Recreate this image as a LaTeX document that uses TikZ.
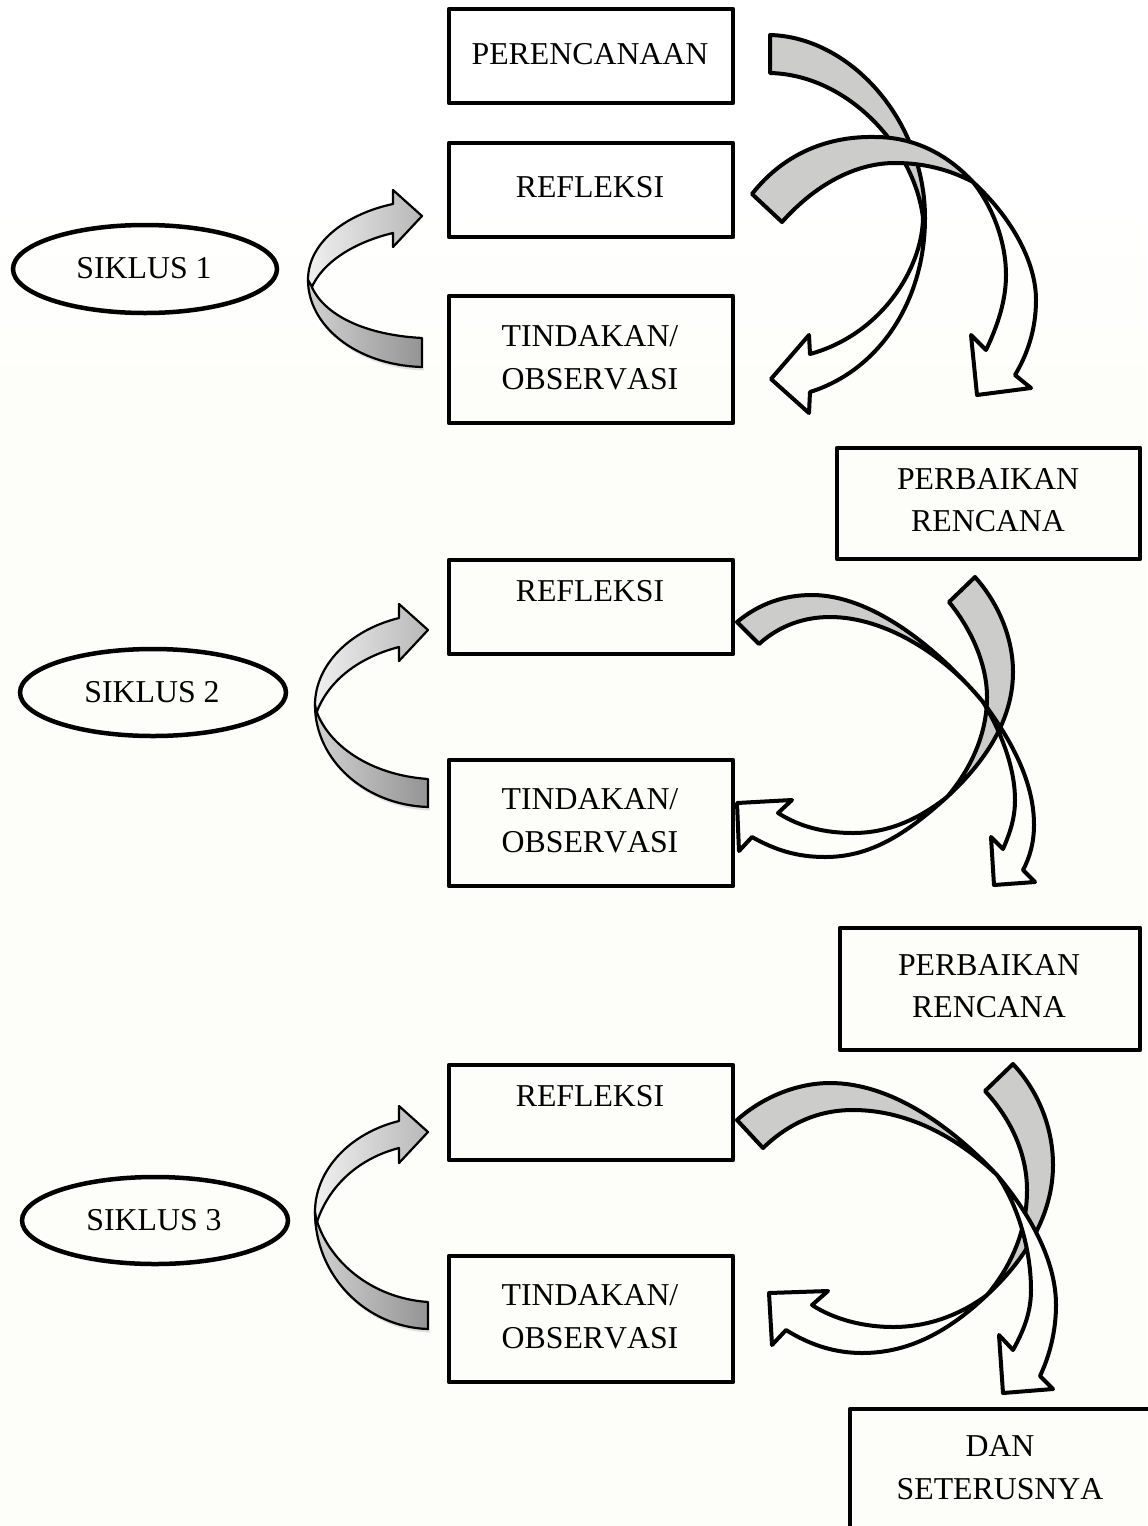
\documentclass[tikz,border=0pt]{standalone}
\usepackage{fontspec}
\setmainfont[Kerning=Off]{Liberation Serif}
\tikzset{
 x=0.5pt,y=-0.5pt,
 boxnode/.style={draw=black,line width=2.25pt,line join=round,rectangle,inner sep=0pt},
 ovalnode/.style={draw=black,line width=2.25pt,ellipse,inner sep=0pt},
 lbl/.style={font=\fontsize{15.9}{21.3}\selectfont,align=center,inner sep=0pt,text=black},
 grayband/.style={draw=black,line width=2pt,line join=round,fill=bandgray},
 whiteband/.style={draw=black,line width=2pt,line join=round,fill=none},
 upband/.style={draw=black,line width=1.1pt,line join=round,left color=black!6,right color=black!28},
 lowband/.style={draw=black,line width=1.1pt,line join=round,left color=black!18,right color=black!42},
 softshadow/.style={draw=black!45,line width=1.5pt,opacity=0.25},
}
\definecolor{bandgray}{HTML}{CCCDCA}
\definecolor{paper}{HTML}{FDFEF9}
\usetikzlibrary{shapes.geometric}
\begin{document}
\begin{tikzpicture}
\useasboundingbox (0,0) rectangle (1147,1526);
\shade[top color=white,bottom color=paper] (0,200) rectangle (1147,420);
\fill[paper] (0,420) rectangle (1147,1526);
% boxes
\node[boxnode,minimum width=142pt,minimum height=47pt] (plan) at (591,56) {};
\node[boxnode,minimum width=142pt,minimum height=47pt] (ref1) at (591,190) {};
\node[boxnode,minimum width=142pt,minimum height=63.5pt] (tin1) at (591,359.5) {};
\node[boxnode,minimum width=151.5pt,minimum height=55.5pt] (per1) at (988.5,503.5) {};
\node[boxnode,minimum width=142pt,minimum height=47pt] (ref2) at (591,607) {};
\node[boxnode,minimum width=142pt,minimum height=63pt] (tin2) at (591,823) {};
\node[boxnode,minimum width=150pt,minimum height=61pt] (per2) at (990,989) {};
\node[boxnode,minimum width=142pt,minimum height=47.5pt] (ref3) at (591,1112.5) {};
\node[boxnode,minimum width=142pt,minimum height=63pt] (tin3) at (591,1319) {};
\node[boxnode,minimum width=160pt,minimum height=70pt] (dan) at (1010,1479) {};
% ovals
\node[ovalnode,minimum width=132pt,minimum height=44pt] (os1) at (145,269) {};
\node[ovalnode,minimum width=133pt,minimum height=43.5pt] (os2) at (153,692.5) {};
\node[ovalnode,minimum width=133pt,minimum height=43.5pt] (os3) at (155,1220.5) {};
% labels
\node[lbl] (t1) at (590,54) {PERENCANAAN};
\node[lbl] (t2) at (590,187) {REFLEKSI};
\node[lbl] (t3) at (590,358) {TINDAKAN/\\OBSERVASI};
\node[lbl] (t4) at (988,500) {PERBAIKAN\\RENCANA};
\node[lbl] (t5) at (590,591) {REFLEKSI};
\node[lbl] (t6) at (590,820.5) {TINDAKAN/\\OBSERVASI};
\node[lbl] (t7) at (989,986) {PERBAIKAN\\RENCANA};
\node[lbl] (t8) at (590,1096) {REFLEKSI};
\node[lbl] (t9) at (590,1316.5) {TINDAKAN/\\OBSERVASI};
\node[lbl] (t10) at (1000,1467.5) {DAN\\SETERUSNYA};
\node[lbl] (t11) at (144,268) {SIKLUS 1};
\node[lbl] (t12) at (152,692) {SIKLUS 2};
\node[lbl] (t13) at (154,1220) {SIKLUS 3};
% ---- right arrows, cycle 1
\draw[grayband] (770,35) .. controls (850,37) and (925,120) .. (925,218)
  -- (923,218) .. controls (915,150) and (850,75) .. (770,73) -- cycle;
\draw[whiteband] (925,218) .. controls (925,300) and (880,370) .. (810,392)
  -- (809,413) -- (771,379) -- (809,335) -- (810,354)
  .. controls (880,335) and (922,270) .. (923,218) -- cycle;
\draw[grayband] (752,194) .. controls (785,152) and (830,136) .. (875,137)
  .. controls (915,137) and (948,155) .. (973,182)
  .. controls (950,170) and (925,163) .. (895,163)
  .. controls (855,163) and (815,185) .. (782,222) -- cycle;
\draw[whiteband] (973,182) .. controls (1012,218) and (1036,262) .. (1036,300)
  .. controls (1036,330) and (1027,355) .. (1015,375)
  -- (1031,388) -- (977,395) -- (971,335) -- (986,350)
  .. controls (998,325) and (1006,300) .. (1006,275)
  .. controls (1006,245) and (995,210) .. (973,182) -- cycle;
% ---- right arrows, cycle 2
\draw[grayband] (975,577) .. controls (1000,605) and (1013,640) .. (1013,672)
  .. controls (1013,720) and (985,762) .. (947,797)
  .. controls (970,770) and (987,735) .. (987,697)
  .. controls (987,665) and (972,630) .. (949,602) -- cycle;
\draw[whiteband] (947,797) .. controls (905,835) and (870,857) .. (825,857)
  .. controls (797,857) and (775,850) .. (752,837)
  -- (739,851) -- (737,803) -- (792,800) -- (778,813)
  .. controls (800,827) and (825,833) .. (853,833)
  .. controls (890,833) and (920,818) .. (947,797) -- cycle;
\draw[grayband] (737,622) .. controls (760,603) and (785,595) .. (812,595)
  .. controls (870,595) and (935,645) .. (983,702)
  .. controls (945,655) and (885,617) .. (830,617)
  .. controls (805,617) and (780,625) .. (759,644) -- cycle;
\draw[whiteband,fill=paper] (983,702) .. controls (1015,745) and (1034,785) .. (1034,825)
  .. controls (1034,842) and (1030,857) .. (1023,870)
  -- (1035,882) -- (994,885) -- (991,837) -- (1003,849)
  .. controls (1010,833) and (1015,818) .. (1015,800)
  .. controls (1015,770) and (1003,735) .. (983,702) -- cycle;
% ---- right arrows, cycle 3
\draw[grayband] (1013,1064) .. controls (1040,1093) and (1053,1130) .. (1053,1165)
  .. controls (1053,1215) and (1025,1260) .. (987,1295)
  .. controls (1012,1265) and (1027,1230) .. (1027,1190)
  .. controls (1027,1155) and (1012,1120) .. (985,1091) -- cycle;
\draw[whiteband] (987,1295) .. controls (945,1335) and (905,1353) .. (862,1353)
  .. controls (835,1353) and (810,1345) .. (786,1330)
  -- (772,1345) -- (769,1293) -- (828,1291) -- (812,1305)
  .. controls (835,1320) and (865,1327) .. (893,1327)
  .. controls (928,1327) and (960,1315) .. (987,1295) -- cycle;
\draw[grayband] (737,1120) .. controls (765,1095) and (800,1083) .. (830,1083)
  .. controls (890,1083) and (950,1125) .. (997,1175)
  .. controls (955,1135) and (905,1110) .. (853,1110)
  .. controls (820,1110) and (790,1122) .. (763,1148) -- cycle;
\draw[whiteband,fill=paper] (997,1175) .. controls (1035,1220) and (1056,1265) .. (1056,1305)
  .. controls (1056,1330) and (1050,1355) .. (1040,1376)
  -- (1053,1389) -- (1003,1393) -- (999,1335) -- (1013,1350)
  .. controls (1024,1330) and (1031,1312) .. (1031,1290)
  .. controls (1031,1250) and (1018,1205) .. (997,1175) -- cycle;
% ---- left arrows, cycle 1
\draw[softshadow] (424,369) .. controls (357,367) and (310,327) .. (310,282);
\path[upband] (393,204) .. controls (350,213) and (308,240) .. (308,280) -- (311,289)
  .. controls (322,262) and (355,242) .. (393,233)
  -- (393,247) -- (422,216) -- (393,190) -- cycle;
\path[lowband] (311,285) .. controls (323,315) and (365,335) .. (422,338)
  -- (422,367) .. controls (355,365) and (308,325) .. (308,280) -- cycle;
% ---- left arrows, cycle 2
\draw[softshadow] (430,809) .. controls (367,807) and (317,762) .. (317,707);
\path[upband] (399,618) .. controls (350,630) and (315,665) .. (315,705) -- (316,714)
  .. controls (328,680) and (360,657) .. (399,647)
  -- (399,661) -- (428,630) -- (399,604) -- cycle;
\path[lowband] (316,710) .. controls (328,745) and (370,775) .. (428,779)
  -- (428,807) .. controls (365,805) and (315,760) .. (315,705) -- cycle;
% ---- left arrows, cycle 3
\draw[softshadow] (430,1331) .. controls (367,1329) and (317,1277) .. (317,1214);
\path[upband] (399,1121) .. controls (350,1133) and (315,1170) .. (315,1212) -- (316,1225)
  .. controls (328,1185) and (360,1158) .. (399,1148)
  -- (399,1163) -- (428,1132) -- (399,1106) -- cycle;
\path[lowband] (316,1218) .. controls (328,1260) and (370,1298) .. (428,1302)
  -- (428,1329) .. controls (365,1327) and (315,1275) .. (315,1212) -- cycle;
\end{tikzpicture}
\end{document}
